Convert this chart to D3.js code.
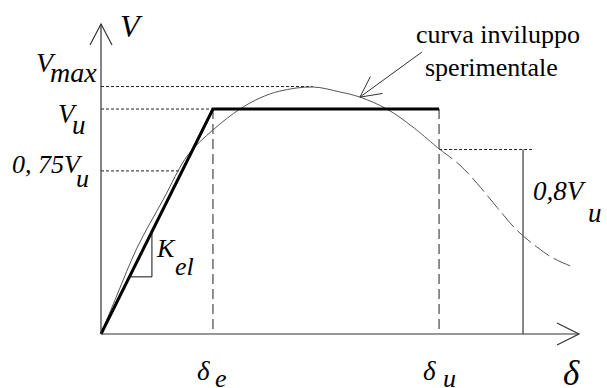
<!DOCTYPE html>
<html>
<head>
<meta charset="utf-8">
<script src="https://cdn.jsdelivr.net/npm/d3@7"></script>
</head>
<body style="margin:0">
<svg id="chart" width="607" height="388"></svg>
<script>
// values (delta in units of delta_e, V in units of V_u)
const deltaE = 1, deltaU = 3.02;
const vMax = 1.1, vU = 1, v075 = 0.725, v08 = 0.82;
const xAxisEnd = 4.27, vAxisEnd = 1.378;

const bilinearX = [0, deltaE, deltaU];
const bilinearV = [0, vU, vU];

// experimental envelope, solid up to delta_u, dashed after
const envX = [0, 0.143, 0.321, 0.554, 0.777, 1.0, 1.241, 1.42, 1.598, 1.893, 2.134, 2.313, 2.554, 2.786, 3.009];
const envV = [0, 0.173, 0.382, 0.596, 0.796, 0.907, 1.0, 1.049, 1.08, 1.098, 1.076, 1.053, 1.0, 0.92, 0.827];
const tailX = [3.009, 3.205, 3.357, 3.536, 3.714, 3.893, 4.036, 4.214];
const tailV = [0.827, 0.751, 0.671, 0.564, 0.462, 0.387, 0.338, 0.298];

// dotted reference levels and where they stop
const levels = [vMax, vU, v075];
const levelEnds = [1.893, deltaE, v075];

const residualX = 3.77;      // where 0,8Vu is measured
const residualDotEnd = 3.857;
const kelTriangle = [[0.254, 0.254], [0.455, 0.254], [0.455, 0.455]];
const leaderFrom = [2.866, 1.253], leaderTo = [2.313, 1.053];

const svg = d3.select('#chart');

const x = d3.scaleLinear().domain([0, xAxisEnd]).range([101, 579]);
const y = d3.scaleLinear().domain([0, vAxisEnd]).range([334, 24]);

const line = d3.line().x(d => x(d[0])).y(d => y(d[1]));
const smooth = d3.line().x(d => x(d[0])).y(d => y(d[1])).curve(d3.curveCatmullRom);

// labels first
const labelTexts = ['V', 'V', 'max', 'V', 'u', '0, 75V', 'u', '0,8V', 'u', 'K', 'el',
  'δ', 'e', 'δ', 'u', 'δ', 'curva inviluppo', 'sperimentale'];
const labelPos = [
  [x(0) + 19, y(vAxisEnd) + 13, 32], [36, y(vMax) - 15, 28], [50, y(vMax) - 5, 28],
  [58, y(vU) + 14, 27], [72, y(vU) + 25, 27], [12, y(v075) + 2, 26], [76, y(v075) + 16, 26],
  [533, 200, 27], [588, 222, 27], [157, 257, 26], [175, 275, 26],
  [x(deltaE) - 16, 380, 27], [x(deltaE) + 2, 387, 26], [x(deltaU) - 16, 380, 27], [x(deltaU) + 4, 387, 26],
  [563, 385, 35], [416, 43, 26], [425, 76, 26]
];
labelTexts.forEach((t, i) => {
  const [px, py, size] = labelPos[i];
  svg.append('text')
    .attr('x', px).attr('y', py)
    .style('font-family', 'Times New Roman, Liberation Serif, FreeSerif, serif')
    .style('font-size', size + 'px')
    .style('font-style', i >= 16 ? 'normal' : 'italic')
    .text(t);
});

// dotted levels
levels.forEach((v, i) => {
  svg.append('path')
    .attr('d', line([[0, v], [levelEnds[i], v]]))
    .attr('stroke', '#222').attr('stroke-width', 1)
    .attr('stroke-dasharray', '3,2').attr('fill', 'none');
});
svg.append('path')
  .attr('d', line([[deltaU, v08], [residualDotEnd, v08]]))
  .attr('stroke', '#222').attr('stroke-width', 1)
  .attr('stroke-dasharray', '3,2').attr('fill', 'none');

// dashed verticals at delta_e and delta_u
[deltaE, deltaU].forEach(d => {
  svg.append('path')
    .attr('d', line([[d, vU], [d, 0]]))
    .attr('stroke', '#555').attr('stroke-width', 1.3)
    .attr('stroke-dasharray', '10,5').attr('fill', 'none');
});

// 0,8Vu measure line
svg.append('path')
  .attr('d', line([[residualX, v08], [residualX, 0]]))
  .attr('stroke', '#111').attr('stroke-width', 1).attr('fill', 'none');

// envelope curve
svg.append('path')
  .attr('d', smooth(envX.map((d, i) => [d, envV[i]])))
  .attr('stroke', '#555').attr('stroke-width', 1).attr('fill', 'none');
svg.append('path')
  .attr('d', smooth(tailX.map((d, i) => [d, tailV[i]])))
  .attr('stroke', '#555').attr('stroke-width', 1)
  .attr('stroke-dasharray', '18,5').attr('fill', 'none');

// bilinear
svg.append('path')
  .attr('d', line(bilinearX.map((d, i) => [d, bilinearV[i]])))
  .attr('stroke', '#000').attr('stroke-width', 3)
  .attr('stroke-linejoin', 'miter').attr('fill', 'none');

// Kel triangle
svg.append('path')
  .attr('d', line(kelTriangle))
  .attr('stroke', '#111').attr('stroke-width', 1).attr('fill', 'none');

// axes with open arrow heads
const axisColor = '#333';
svg.append('path').attr('d', line([[0, 0], [xAxisEnd, 0]]))
  .attr('stroke', axisColor).attr('stroke-width', 1.2);
svg.append('path').attr('d', line([[0, 0], [0, vAxisEnd]]))
  .attr('stroke', axisColor).attr('stroke-width', 1.2);
svg.append('path')
  .attr('d', `M${x(xAxisEnd) - 22},${y(0) - 11}L${x(xAxisEnd)},${y(0)}L${x(xAxisEnd) - 22},${y(0) + 11}`)
  .attr('stroke', axisColor).attr('stroke-width', 1.2).attr('fill', 'none');
svg.append('path')
  .attr('d', `M${x(0) - 11},${y(vAxisEnd) + 21}L${x(0)},${y(vAxisEnd)}L${x(0) + 11},${y(vAxisEnd) + 21}`)
  .attr('stroke', axisColor).attr('stroke-width', 1.2).attr('fill', 'none');

// leader arrow to the envelope
const tx = x(leaderTo[0]), ty = y(leaderTo[1]);
const ang = Math.atan2(y(leaderFrom[1]) - ty, x(leaderFrom[0]) - tx);
const barb = a => [tx + 23 * Math.cos(a), ty + 23 * Math.sin(a)];
const b1 = barb(ang - 0.47), b2 = barb(ang + 0.47);
svg.append('path')
  .attr('d', `M${x(leaderFrom[0])},${y(leaderFrom[1])}L${tx},${ty}M${b1[0]},${b1[1]}L${tx},${ty}L${b2[0]},${b2[1]}`)
  .attr('stroke', '#333').attr('stroke-width', 1).attr('fill', 'none');
</script>
</body>
</html>
